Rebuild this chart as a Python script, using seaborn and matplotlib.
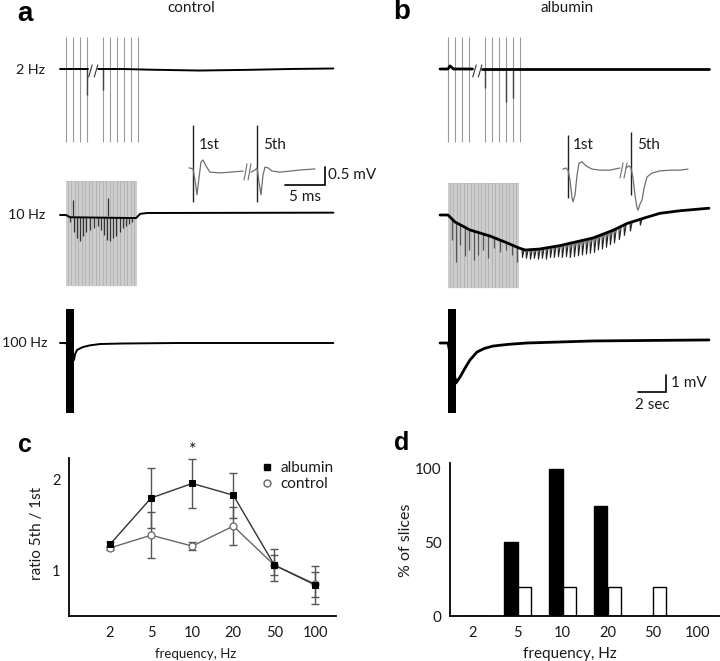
import numpy as np
import pandas as pd
import matplotlib
matplotlib.use("Agg")
import matplotlib.pyplot as plt
from matplotlib.lines import Line2D
import seaborn as sns

# ---------------------------------------------------------------- data
freq_labels = ["2", "5", "10", "20", "50", "100"]
ratio_albumin = [1.29, 1.80, 1.96, 1.83, 1.06, 0.84]
ratio_albumin_se = [0.03, 0.33, 0.27, 0.25, 0.18, 0.21]
ratio_control = [1.25, 1.39, 1.27, 1.49, 1.06, 0.85]
ratio_control_se = [0.02, 0.25, 0.04, 0.21, 0.11, 0.14]
slices_albumin = [0, 50, 100, 75, 0, 0]
slices_control = [0, 20, 20, 20, 20, 0]

# stimulation protocols (s) and artifact extent (mV)
stim2_times = [0.0, 0.5, 1.0, 1.5, 2.65, 3.15, 3.65, 4.15, 4.65, 5.15]
stim10_times = np.arange(0.0, 5.05, 0.1)
stim10_window = [0.0, 5.07]
stim100_window = [0.0, 0.55]
artifact_top, artifact_bottom = 1.9, -4.3

# 2 Hz traces (s, mV)
ctrl2_t = [-0.43, 0.5, 1.6, 2.3, 4.0, 6.0, 9.5, 13.0, 16.0, 19.1]
ctrl2_v = [0.0, 0.0, 0.0, 0.0, 0.0, -0.04, -0.09, -0.05, 0.0, 0.03]
ctrl2_resp_t = [1.5, 2.65]
ctrl2_resp_v = [-1.53, -1.24]
alb2_t = [-0.57, 0.0, 0.14, 0.4, 1.75, 2.45, 5.0, 10.0, 18.64]
alb2_v = [0.0, 0.0, 0.18, 0.0, 0.0, 0.0, 0.0, 0.0, 0.0]
alb2_resp_t = [2.65, 4.15, 4.65]
alb2_resp_v = [-1.12, -1.94, -1.71]

# 10 Hz traces
ctrl10_t = [-0.43, 0.0, 0.3, 5.0, 5.3, 5.8, 19.1]
ctrl10_v = [-0.12, -0.12, -0.25, -0.3, -0.05, 0.0, 0.02]
ctrl10_spike_t = [0.29, 0.57, 0.79, 1.0, 1.21, 1.43, 1.71, 2.0, 2.29, 2.5,
                  2.71, 2.93, 3.14, 3.36, 3.57, 3.86, 4.07, 4.29, 4.5, 4.71]
ctrl10_spike_base = [-0.25, -0.25, -0.26, -0.26, -0.26, -0.27, -0.27, -0.27, -0.27, -0.28,
                     -0.28, -0.28, -0.28, -0.29, -0.29, -0.29, -0.29, -0.3, -0.3, -0.3]
ctrl10_spike_tip = [-0.53, -1.12, -1.47, -1.65, -1.35, -1.12, -1.0, -0.88, -0.76, -1.0,
                    -1.29, -1.59, -1.65, -1.47, -1.35, -1.12, -0.88, -0.76, -0.65, -0.53]
ctrl10_up_t = [0.5, 3.0]
ctrl10_up_v = [0.76, 0.88]

alb10_t = [-0.57, 0.0, 0.5, 1.57, 3.0, 4.07, 5.07, 5.5, 6.57, 8.0, 10.36,
           11.79, 12.79, 13.93, 15.14, 16.57, 18.64]
alb10_v = [0.0, 0.0, -0.41, -0.88, -1.24, -1.59, -1.94, -2.06, -2.0, -1.8, -1.35,
           -0.9, -0.5, -0.2, 0.1, 0.25, 0.4]
alb10_stim_spike_t = [0.29, 0.57, 0.86, 1.21, 1.5, 1.86, 2.14, 2.5, 2.86, 3.29,
                      3.71, 4.14, 4.57, 4.93]
alb10_stim_spike_base = [-0.25, -0.45, -0.6, -0.75, -0.85, -0.95, -1.05, -1.12, -1.2, -1.33,
                         -1.47, -1.62, -1.78, -1.9]
alb10_stim_spike_tip = [-1.47, -2.76, -1.76, -2.41, -2.06, -2.65, -2.35, -2.06, -2.53, -1.94,
                        -2.18, -2.06, -2.35, -2.76]
alb10_spike_t = [5.29, 5.57, 5.86, 6.14, 6.43, 6.71, 7.0, 7.29, 7.57, 7.86, 8.14, 8.43,
                 8.71, 9.0, 9.29, 9.57, 9.86, 10.14, 10.43, 10.71, 11.0, 11.29, 11.57,
                 11.86, 12.21, 12.57, 13.0, 13.71]
alb10_spike_base = [-2.0, -2.06, -2.06, -2.06, -2.0, -1.94, -1.94, -1.88, -1.82, -1.82,
                    -1.76, -1.71, -1.71, -1.65, -1.59, -1.53, -1.47, -1.41, -1.35, -1.24,
                    -1.18, -1.06, -1.0, -0.88, -0.76, -0.59, -0.41, -0.24]
alb10_spike_tip = [-2.5, -2.55, -2.6, -2.55, -2.6, -2.55, -2.6, -2.5, -2.5, -2.45,
                   -2.5, -2.45, -2.5, -2.45, -2.4, -2.35, -2.3, -2.25, -2.2, -2.05,
                   -2.0, -1.9, -1.75, -1.65, -1.45, -1.2, -0.95, -0.6]

# 100 Hz traces
ctrl100_t = [-0.43, 0.0, 0.57, 0.65, 0.79, 1.0, 1.21, 1.7, 2.43, 4.0, 8.0, 19.1]
ctrl100_v = [0.0, 0.0, -1.0, -0.65, -0.41, -0.32, -0.24, -0.14, -0.06, -0.03, 0.0, 0.0]
alb100_t = [-0.57, 0.0, 0.57, 0.86, 1.2, 1.57, 2.07, 2.6, 3.21, 4.3, 5.64, 10.36, 18.64]
alb100_v = [0.0, 0.0, -2.35, -2.0, -1.5, -1.0, -0.53, -0.32, -0.18, -0.08, 0.0, 0.12, 0.18]

# inset traces (ms, mV): responses to the 1st and 5th stimulus
ins_ctrl_1_t = [-0.5, 0.0, 0.25, 0.5, 0.75, 1.0, 1.25, 1.63, 2.13, 3.38, 4.63, 6.25]
ins_ctrl_1_v = [0.06, 0.03, -0.28, -0.69, -0.22, 0.22, 0.28, 0.11, -0.06, -0.08, -0.06, -0.03]
ins_ctrl_5_t = [-0.75, -0.25, 0.0, 0.25, 0.5, 0.75, 1.0, 1.38, 1.88, 2.88, 4.13, 5.38, 7.25]
ins_ctrl_5_v = [-0.06, 0.0, 0.06, -0.33, -0.69, -0.14, 0.08, 0.06, -0.03, -0.06, -0.03, 0.0, 0.03]
ins_ctrl_artifact = [1.25, -0.89]
ins_alb_1_t = [-0.63, -0.25, 0.0, 0.25, 0.5, 0.63, 0.88, 1.13, 1.38, 1.75, 2.25, 3.0, 4.0, 5.25, 6.5]
ins_alb_1_v = [-0.03, 0.0, -0.06, -0.33, -0.83, -0.94, -0.75, -0.19, 0.14, 0.17, 0.06, -0.03,
               -0.06, -0.06, 0.0]
ins_alb_5_t = [-0.63, -0.25, 0.0, 0.25, 0.5, 0.75, 0.88, 1.13, 1.38, 1.63, 2.0, 2.63, 3.63,
               4.88, 6.13, 7.13]
ins_alb_5_v = [0.0, 0.06, 0.0, -0.28, -0.75, -1.11, -1.17, -1.0, -0.89, -0.56, -0.25, -0.14,
               -0.08, -0.06, -0.06, -0.03]
ins_alb_artifact_1 = [0.92, -0.83]
ins_alb_artifact_5 = [1.0, -0.75]

# ---------------------------------------------------------------- style
sns.set_style("white")
plt.rcParams["font.family"] = ["Lato", "DejaVu Sans"]
plt.rcParams["font.size"] = 10.5
TXT = "#1a1a1a"

W, H = 720, 661
fig = plt.figure(figsize=(W / 100, H / 100), dpi=100)
overlays = []


def overlay(x0, y0, sx, sy):
    """Invisible full-figure axes whose origin sits at pixel (x0, y0)."""
    ax = fig.add_axes([0, 0, 1, 1], facecolor="none")
    lims = ((-x0 / sx, (W - x0) / sx), (-(H - y0) / sy, y0 / sy))
    ax.set_xlim(*lims[0])
    ax.set_ylim(*lims[1])
    ax.axis("off")
    overlays.append((ax, lims))
    return ax


def trace(ax, t, v, color="black", lw=1.3, z=3):
    sns.lineplot(x=t, y=v, ax=ax, color=color, linewidth=lw, estimator=None,
                 sort=False, legend=False, zorder=z)


def ftext(x, y, s, **kw):
    kw.setdefault("color", TXT)
    fig.text(x / W, 1 - y / H, s, **kw)


def stim_block(ax):
    ax.fill_between(stim10_window, artifact_bottom, artifact_top, color="#b4b4b4", lw=0,
                    zorder=0)
    ax.vlines(stim10_times, artifact_bottom, artifact_top, color="#dcdcdc", lw=0.45, zorder=1)


PX_S, PX_MV = 14, 17
STIM_GREY = "#9a9a9a"


def split_at_break(t, v, b0, b1):
    t = np.asarray(t); v = np.asarray(v)
    pre, post = t <= b0, t >= b1
    return (t[pre], v[pre]), (t[post], v[post])


# ---------------- 2 Hz rows
for x0, tt, vv, rt, rv, brk, lw in [
        (66, ctrl2_t, ctrl2_v, ctrl2_resp_t, ctrl2_resp_v, (1.6, 2.3), 1.4),
        (448, alb2_t, alb2_v, alb2_resp_t, alb2_resp_v, (1.75, 2.45), 2.0)]:
    ax = overlay(x0, 69, PX_S, PX_MV)
    ax.vlines(stim2_times, artifact_bottom, artifact_top, color=STIM_GREY, lw=0.8, zorder=1)
    ax.vlines(rt, 0, rv, color="#444444", lw=1.0, zorder=2)
    for seg in split_at_break(tt, vv, *brk):
        trace(ax, seg[0], seg[1], lw=lw)
    b0, b1 = brk
    for dx in (0.0, 0.4):
        ax.plot([b0 + 0.02 + dx, b0 + 0.27 + dx], [-0.47, 0.24], color="#333333", lw=0.8)

# ---------------- 10 Hz rows
ax = overlay(66, 213, PX_S, PX_MV)
stim_block(ax)
ax.vlines(ctrl10_spike_t, ctrl10_spike_base, ctrl10_spike_tip, color="#333333", lw=0.9, zorder=2)
ax.vlines(ctrl10_up_t, -0.2, ctrl10_up_v, color="#333333", lw=0.9, zorder=2)
trace(ax, ctrl10_t, ctrl10_v, lw=1.4)

ax = overlay(448, 215, PX_S, PX_MV)
stim_block(ax)
ax.vlines(alb10_stim_spike_t, alb10_stim_spike_base, alb10_stim_spike_tip,
          color="#555555", lw=0.9, zorder=2)
for t, b, tp in zip(alb10_spike_t, alb10_spike_base, alb10_spike_tip):
    ax.plot([t, t + 0.03, t + 0.15], [b, tp, b], color="#222222", lw=0.8, zorder=2)
trace(ax, alb10_t, alb10_v, lw=2.0)

# ---------------- 100 Hz rows
ax = overlay(66, 343, PX_S, PX_MV)
ax.fill_between(stim100_window, artifact_bottom + 0.2, artifact_top + 0.1, color="black",
                lw=0, zorder=2)
trace(ax, ctrl100_t, ctrl100_v, lw=1.4)

ax = overlay(448, 343, PX_S, PX_MV)
ax.fill_between(stim100_window, artifact_bottom + 0.2, artifact_top + 0.1, color="black",
                lw=0, zorder=2)
trace(ax, alb100_t, alb100_v, lw=2.0)
# calibration 1 mV / 2 s
ax.plot([13.57, 15.57, 15.57], [-2.88, -2.88, -1.88], color="black", lw=1.2,
        solid_joinstyle="miter")

# ---------------- insets (8 px per ms, 36 px per mV)
PX_MS, PX_MV_INS = 8, 36
INS_GREY = "#6f6f6f"
ax = overlay(193, 170, PX_MS, PX_MV_INS)
trace(ax, ins_ctrl_1_t, ins_ctrl_1_v, color=INS_GREY, lw=0.9)
trace(ax, np.asarray(ins_ctrl_5_t) + 8.0, ins_ctrl_5_v, color=INS_GREY, lw=0.9)
ax.vlines([0.0, 8.0], ins_ctrl_artifact[1], ins_ctrl_artifact[0], color="#222222", lw=1.0)
for dx in (0.0, 0.5):
    ax.plot([6.38 + dx, 6.75 + dx], [-0.28, 0.17], color=INS_GREY, lw=0.8)
ax.plot([11.5, 16.5, 16.5], [-0.42, -0.42, 0.08], color="black", lw=1.2,
        solid_joinstyle="miter")

ax = overlay(568, 168, PX_MS, PX_MV_INS)
trace(ax, ins_alb_1_t, ins_alb_1_v, color=INS_GREY, lw=0.9)
trace(ax, np.asarray(ins_alb_5_t) + 7.875, ins_alb_5_v, color=INS_GREY, lw=0.9)
ax.vlines([0.0], ins_alb_artifact_1[1], ins_alb_artifact_1[0], color="#222222", lw=1.0)
ax.vlines([7.875], ins_alb_artifact_5[1], ins_alb_artifact_5[0], color="#222222", lw=1.0)
for dx in (0.0, 0.5):
    ax.plot([6.5 + dx, 6.88 + dx], [-0.28, 0.14], color=INS_GREY, lw=0.8)

for ax, (xl, yl) in overlays:
    ax.set_xlim(*xl)
    ax.set_ylim(*yl)

# ---------------- panel c
axc = fig.add_axes([69 / W, 1 - 616 / H, 267 / W, 158 / H])
xpos = np.arange(len(freq_labels))
axc.errorbar(xpos, ratio_control, yerr=ratio_control_se, fmt="none", ecolor="#555555",
             elinewidth=1.0, capsize=3, capthick=1.0, zorder=2)
axc.errorbar(xpos, ratio_albumin, yerr=ratio_albumin_se, fmt="none", ecolor="#555555",
             elinewidth=1.0, capsize=3, capthick=1.0, zorder=2)
sns.lineplot(x=xpos, y=ratio_control, ax=axc, color="#666666", linewidth=1.0, marker="o",
             markersize=5, markerfacecolor="white", markeredgecolor="#666666",
             markeredgewidth=0.9, estimator=None, sort=False, zorder=3)
sns.lineplot(x=xpos, y=ratio_albumin, ax=axc, color="#333333", linewidth=1.0, marker="s",
             markersize=4.8, markerfacecolor="black", markeredgecolor="black",
             estimator=None, sort=False, zorder=4)
axc.set_xlim(-1, 5.5)
axc.set_ylim(0.5, 2.24)
axc.set_xticks(xpos)
axc.set_xticklabels(freq_labels)
axc.set_yticks([1, 2])
axc.tick_params(axis="x", length=0, pad=7, labelsize=10.5, colors=TXT)
axc.tick_params(axis="y", length=4, width=1, direction="out", pad=2, labelsize=10.5,
                colors="black", labelcolor=TXT)
sns.despine(ax=axc)
for s in ("left", "bottom"):
    axc.spines[s].set_linewidth(1.3)
    axc.spines[s].set_color("black")
axc.set_xlabel("frequency, Hz", fontsize=9.5, color=TXT)
axc.set_ylabel("ratio 5th / 1st", fontsize=11, color=TXT)
axc.xaxis.set_label_coords(0.476, -0.2)
axc.yaxis.set_label_coords(-0.094, 0.525)
leg_handles = [Line2D([], [], ls="none", marker="s", ms=4.8, mfc="black", mec="black"),
               Line2D([], [], ls="none", marker="o", ms=5, mfc="white", mec="#666666")]
axc.legend(leg_handles, ["albumin", "control"], loc="upper left",
           bbox_to_anchor=(262 / W, 1 - 461 / H), bbox_transform=fig.transFigure,
           frameon=False, handlelength=0.7, handletextpad=0.5, labelspacing=0.15,
           borderpad=0, borderaxespad=0, fontsize=11, labelcolor=TXT)
ftext(193, 450, "*", ha="center", va="center", fontsize=13)

# ---------------- panel d
axd = fig.add_axes([450 / W, 1 - 616 / H, 270 / W, 153 / H])
df = pd.DataFrame({"freq": freq_labels * 2,
                   "pct": slices_albumin + slices_control,
                   "group": ["albumin"] * len(freq_labels) + ["control"] * len(freq_labels)})
sns.barplot(data=df, x="freq", y="pct", hue="group", order=freq_labels,
            hue_order=["albumin", "control"],
            palette={"albumin": "black", "control": "white"}, edgecolor="black",
            linewidth=1.0, width=0.62, gap=0, errorbar=None, legend=False, ax=axd)
axd.set_xlim(-0.5, 5.5)
axd.set_ylim(0, 104)
axd.set_yticks([0, 50, 100])
axd.tick_params(axis="x", length=0, pad=7, labelsize=10.5, labelcolor=TXT)
axd.tick_params(axis="y", length=4, width=1, direction="out", pad=2, labelsize=11,
                labelcolor=TXT)
sns.despine(ax=axd)
for s in ("left", "bottom"):
    axd.spines[s].set_linewidth(1.3)
    axd.spines[s].set_color("black")
axd.set_xlabel("frequency, Hz", fontsize=11, color=TXT)
axd.set_ylabel("% of slices", fontsize=11.5, color=TXT)
axd.xaxis.set_label_coords(0.444, -0.2)
axd.yaxis.set_label_coords(-0.137, 0.497)

# ---------------- texts
bold = dict(fontweight="bold", family=["Liberation Sans", "DejaVu Sans"], ha="center",
            va="center", color="black")
ftext(25, 14, "a", fontsize=20, **bold)
ftext(402, 12, "b", fontsize=20, **bold)
ftext(25, 445, "c", fontsize=18, **bold)
ftext(402, 443, "d", fontsize=18, **bold)
ftext(191, 8, "control", ha="center", va="center", fontsize=11)
ftext(567, 8, "albumin", ha="center", va="center", fontsize=11)
ftext(45, 70, "2 Hz", ha="right", va="center", fontsize=10.3)
ftext(45, 215, "10 Hz", ha="right", va="center", fontsize=10.3)
ftext(47, 343, "100 Hz", ha="right", va="center", fontsize=10.3)
ftext(199, 145, "1st", ha="left", va="center", fontsize=11)
ftext(263, 145, "5th", ha="left", va="center", fontsize=11)
ftext(573, 145, "1st", ha="left", va="center", fontsize=11)
ftext(637, 145, "5th", ha="left", va="center", fontsize=11)
ftext(328, 175, "0.5 mV", ha="left", va="center", fontsize=11)
ftext(305, 197, "5 ms", ha="center", va="center", fontsize=11)
ftext(671, 383, "1 mV", ha="left", va="center", fontsize=11)
ftext(652, 405, "2 sec", ha="center", va="center", fontsize=11)

fig.savefig("out.png", dpi=100, facecolor="white")
